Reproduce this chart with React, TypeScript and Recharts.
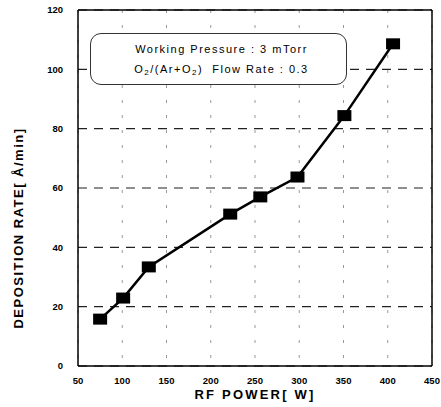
import React from 'react';
import { LineChart, Line, XAxis, YAxis, CartesianGrid, ReferenceLine } from 'recharts';

const rfPower = [75, 101, 130, 222, 256, 298, 351, 406];
const depositionRate = [15.8, 22.9, 33.4, 51.2, 57.0, 63.7, 84.4, 108.6];
const xTicks = [50, 100, 150, 200, 250, 300, 350, 400, 450];
const yTicks = [0, 20, 40, 60, 80, 100, 120];

const data = rfPower.map((x, i) => ({ x, y: depositionRate[i] }));

const font = '"Liberation Sans", Arial, sans-serif';

const SquareDot = (props: any) => {
  const { cx, cy } = props;
  if (cx == null || cy == null) return null;
  return <rect x={cx - 7} y={cy - 5.5} width={14} height={11} fill="#000" />;
};

export default function App() {
  return (
    <div style={{ position: 'absolute', left: 0, top: 0, width: 441, height: 407, background: '#fff', fontFamily: font }}>
      <LineChart width={441} height={407} data={data} margin={{ top: 10, right: 9, bottom: 0, left: 0 }}>
        <CartesianGrid horizontal={true} vertical={false} stroke="#222" strokeDasharray="9 7" strokeWidth={1.2} />
        <CartesianGrid horizontal={false} vertical={true} stroke="#999" strokeDasharray="3 12" strokeWidth={1} />
        <XAxis
          dataKey="x"
          type="number"
          domain={[50, 450]}
          ticks={xTicks}
          height={41}
          tickLine={false}
          axisLine={{ stroke: '#000', strokeWidth: 1.5 }}
          tick={{ fill: '#000', fontSize: 9.5, fontWeight: 'bold', fontFamily: font }}
          tickMargin={5}
        />
        <YAxis
          type="number"
          domain={[0, 120]}
          ticks={yTicks}
          width={78}
          tickLine={false}
          axisLine={{ stroke: '#000', strokeWidth: 1.5 }}
          tick={{ fill: '#000', fontSize: 9.5, fontWeight: 'bold', fontFamily: font }}
          tickMargin={9}
        />
        <ReferenceLine y={120} stroke="#000" strokeWidth={1.5} />
        <ReferenceLine x={450} stroke="#000" strokeWidth={1.5} />
        <Line
          dataKey="y"
          stroke="#000"
          strokeWidth={2.5}
          dot={<SquareDot />}
          activeDot={false}
          isAnimationActive={false}
        />
      </LineChart>
      <div
        style={{
          position: 'absolute',
          left: 90,
          top: 33,
          width: 257,
          height: 52,
          border: '1.3px solid #333',
          borderRadius: 11,
          fontSize: 11,
          letterSpacing: 1.5,
          color: '#000',
          display: 'flex',
          flexDirection: 'column',
          justifyContent: 'center',
          alignItems: 'center',
          lineHeight: '20px',
          boxSizing: 'border-box',
          background: '#fff',
        }}
      >
        <div style={{ marginLeft: 6 }}>Working Pressure : 3 mTorr</div>
        <div style={{ marginLeft: 6 }}>
          O<sub style={{ fontSize: 8, verticalAlign: '-2px', lineHeight: 0 }}>2</sub>/(Ar+O
          <sub style={{ fontSize: 8, verticalAlign: '-2px', lineHeight: 0 }}>2</sub>)&nbsp; Flow Rate : 0.3
        </div>
      </div>
      <svg width={441} height={407} style={{ position: 'absolute', left: 0, top: 0, pointerEvents: 'none' }}>
        <text
          x={255}
          y={399}
          textAnchor="middle"
          fontSize={13}
          fontWeight="bold"
          letterSpacing={2.2}
          fontFamily={font}
          fill="#000"
        >
          RF POWER[ W]
        </text>
        <text
          transform="translate(23,228) rotate(-90)"
          textAnchor="middle"
          fontSize={13}
          fontWeight="bold"
          letterSpacing={1.5}
          fontFamily={font}
          fill="#000"
        >
          DEPOSITION RATE[ Å/min]
        </text>
      </svg>
    </div>
  );
}
